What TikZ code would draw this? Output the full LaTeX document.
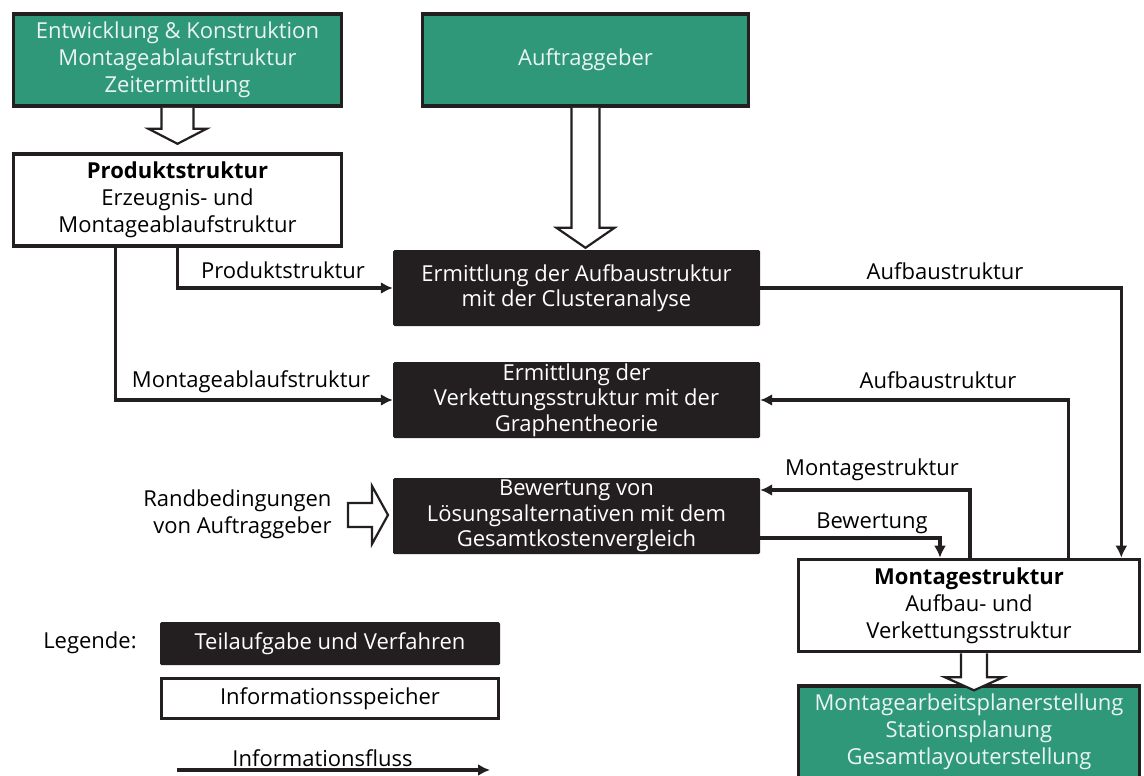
\documentclass[tikz,border=0pt]{standalone}
\usepackage{fontspec}
\setmainfont{Open Sans}
\usetikzlibrary{arrows.meta,positioning}
\definecolor{gruen}{HTML}{2E9878}
\definecolor{schwarz}{HTML}{231F20}

\begin{document}
\begin{tikzpicture}[x=1pt,y=-1pt,
    font=\fontsize{22}{27}\selectfont,
    extern/.style={draw=schwarz,line width=3.6pt,fill=gruen,text=white!90!gruen,align=center,inner sep=0pt},
    speicher/.style={draw=schwarz,line width=3.6pt,fill=white,align=center,inner sep=0pt},
    verfahren/.style={fill=schwarz,rounded corners=1.5pt,text=white,align=center,inner sep=0pt,
        font=\fontsize{22}{25.5}\selectfont},
    fluss/.style={line width=3.4pt,draw=schwarz,-{Latex[length=12pt,width=12pt]}},
    hohl/.style={line width=2.2pt,draw=schwarz,fill=white,line join=miter},
    lbl/.style={inner sep=1pt}]
    \useasboundingbox (0,0) rectangle (1144,776);

    % Quellen
    \node[extern,minimum width=328,minimum height=92] (entw) at (177.5,60)
        {Entwicklung \& Konstruktion\\Montageablaufstruktur\\Zeitermittlung};
    \node[extern,minimum width=326,minimum height=92] (auftr) at (585.5,60) {Auftraggeber};
    \node[speicher,minimum width=328,minimum height=92] (prod) at (177.5,200)
        {\textbf{Produktstruktur}\\Erzeugnis- und\\Montageablaufstruktur};

    % Teilaufgaben
    \node[verfahren,minimum width=367,minimum height=76] (aufbau) at (576.5,288)
        {Ermittlung der Aufbaustruktur\\mit der Clusteranalyse};
    \node[verfahren,minimum width=367,minimum height=76] (verk) at (576.5,400)
        {Ermittlung der\\Verkettungsstruktur mit der\\Graphentheorie};
    \node[verfahren,minimum width=367,minimum height=76] (bew) at (576.5,516)
        {Bewertung von\\Lösungsalternativen mit dem\\Gesamtkostenvergleich};
    \node[align=right,anchor=east] (rand) at (335,514) {Randbedingungen\\von Auftraggeber};

    % Ergebnis
    \node[speicher,minimum width=341,minimum height=92] (mont) at (969,605.5)
        {\textbf{Montagestruktur}\\Aufbau- und\\Verkettungsstruktur};
    \node[extern,minimum width=341,minimum height=92] (plan) at (969,732)
        {Montagearbeitsplanerstellung\\Stationsplanung\\Gesamtlayouterstellung};

    % Informationsfluss
    \draw[fluss] (prod.south) |- (aufbau.west);
    \node[lbl] (l1) at (283,270) {Produktstruktur};
    \draw[fluss] ([xshift=-62pt]prod.south) |- (verk.west);
    \node[lbl] (l2) at (251,382) {Montageablaufstruktur};
    \draw[fluss] (aufbau.east) -| ([xshift=-20pt]mont.north east);
    \node[lbl] (l3) at (945,271) {Aufbaustruktur};
    \draw[fluss] ([xshift=-73pt]mont.north east) |- (verk.east);
    \node[lbl] (l4) at (938,380) {Aufbaustruktur};
    \draw[fluss] ([xshift=1pt]mont.north) |- ([yshift=26pt]bew.east);
    \node[lbl] (l5) at (872,470) {Montagestruktur};
    \draw[fluss] ([yshift=-22pt]bew.east) -| ([xshift=-29pt]mont.north);
    \node[lbl] (l6) at (872,523) {Bewertung};

    % Hohlpfeile
    \draw[hohl] ([xshift=-16pt]entw.south) -- ++(0,21) -- ++(-13,0) -- ++(29,15)
        -- ++(29,-15) -- ++(-13,0) -- ++(0,-21);
    \draw[hohl] ([xshift=-14pt]auftr.south) -- ++(0,120) -- ++(-15,0) -- ++(29,20)
        -- ++(29,-20) -- ++(-15,0) -- ++(0,-120);
    \draw[hohl] ([xshift=-8pt]mont.south) -- ++(0,24) -- ++(-16,0) -- ++(29,13)
        -- ++(29,-13) -- ++(-16,0) -- ++(0,-24);
    \draw[hohl] ([xshift=13pt,yshift=11pt]rand.east) -- ++(24,0) -- ++(0,-17) -- ++(16,29)
        -- ++(-16,29) -- ++(0,-17) -- ++(-24,0) -- cycle;

    % Legende
    \node (leg) at (90,643) {Legende:};
    \node[verfahren,minimum width=340,minimum height=43] (legv) at (330,643.5) {Teilaufgabe und Verfahren};
    \node[speicher,minimum width=337,minimum height=40] (legs) at (330,698.5) {Informationsspeicher};
    \coordinate (fa) at (177,770);
    \coordinate (fb) at (490,770);
    \draw[fluss] (fa) -- node[above,inner sep=2pt,pos=0.465] {Informationsfluss} (fb);
\end{tikzpicture}
\end{document}
